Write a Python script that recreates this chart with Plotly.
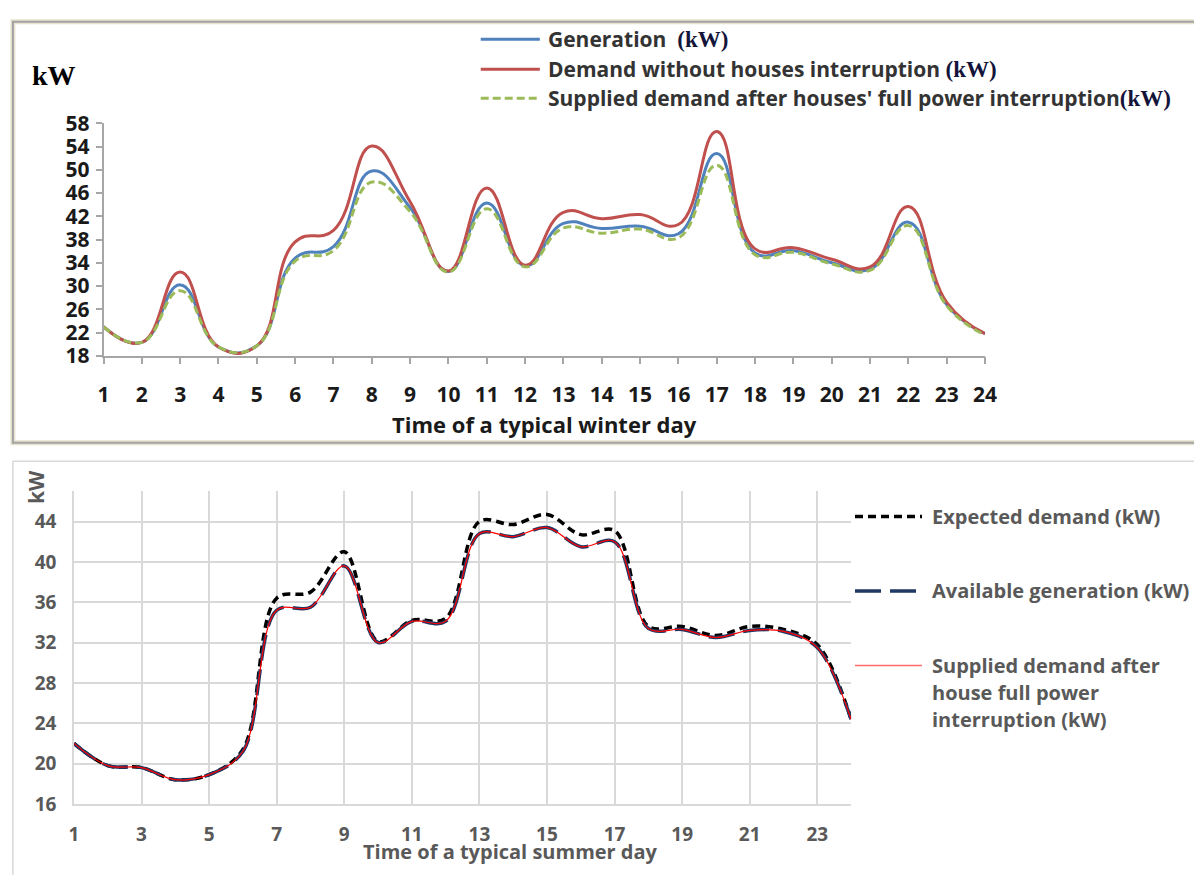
import plotly.graph_objects as go

W, H = 1194, 875

# ---------------- data ----------------
hours = list(range(1, 25))

# winter day (top chart)
winter_generation = [23.0, 20.3, 30.2, 19.5, 19.7, 34.8, 36.8, 49.8, 43.5, 32.5, 44.3, 33.5,
                     40.8, 39.9, 40.3, 39.0, 52.8, 35.7, 36.1, 34.0, 32.9, 41.0, 26.8, 21.8]
winter_demand = [23.0, 20.3, 32.4, 19.5, 19.7, 37.6, 39.6, 54.1, 44.5, 32.6, 46.9, 33.6,
                 42.7, 41.6, 42.3, 40.6, 56.6, 36.4, 36.6, 34.6, 33.3, 43.7, 27.2, 21.8]
winter_supplied = [23.0, 20.3, 29.2, 19.5, 19.7, 34.3, 36.1, 47.9, 42.8, 32.4, 43.3, 33.3,
                   40.0, 39.1, 39.8, 38.3, 50.8, 35.4, 35.8, 33.8, 32.7, 40.4, 26.6, 21.6]
winter_yticks = [18, 22, 26, 30, 34, 38, 42, 46, 50, 54, 58]

# summer day (bottom chart)
summer_expected = [22.0, 19.8, 19.6, 18.4, 18.9, 21.4, 36.4, 37.0, 41.0, 32.1, 34.2, 34.4,
                   44.0, 43.7, 44.7, 42.7, 43.1, 33.6, 33.6, 32.7, 33.6, 33.3, 31.8, 24.4]
summer_available = [22.0, 19.8, 19.6, 18.4, 18.9, 21.2, 35.2, 35.5, 39.6, 32.0, 34.1, 34.1,
                    42.8, 42.5, 43.4, 41.5, 42.0, 33.4, 33.3, 32.5, 33.2, 33.1, 31.5, 24.4]
summer_supplied = [22.0, 19.8, 19.6, 18.4, 18.9, 21.2, 35.2, 35.5, 39.6, 32.0, 34.1, 34.1,
                   42.8, 42.5, 43.4, 41.5, 42.0, 33.4, 33.3, 32.5, 33.2, 33.1, 31.5, 24.4]
summer_xticks = [1, 3, 5, 7, 9, 11, 13, 15, 17, 19, 21, 23]
summer_yticks = [16, 20, 24, 28, 32, 36, 40, 44]

# ---------------- helpers ----------------
def px(x):
    return x / W

def py(y):
    return 1 - y / H

SANS = "Open Sans"
SERIF = "Liberation Serif"

BLUE = "#4F81BD"
RED = "#C0504D"
GREEN = "#9BBB59"
NAVY = "#1F3864"
GRAY_TXT = "#595959"

fig = go.Figure()

# top chart traces
fig.add_trace(go.Scatter(x=hours, y=winter_generation, mode="lines", name="Generation (kW)",
                         line=dict(color=BLUE, width=3, shape="spline", smoothing=1.3),
                         xaxis="x", yaxis="y", showlegend=False))
fig.add_trace(go.Scatter(x=hours, y=winter_demand, mode="lines",
                         name="Demand without houses interruption (kW)",
                         line=dict(color=RED, width=3, shape="spline", smoothing=1.3),
                         xaxis="x", yaxis="y", showlegend=False))
fig.add_trace(go.Scatter(x=hours, y=winter_supplied, mode="lines",
                         name="Supplied demand after houses' full power interruption(kW)",
                         line=dict(color=GREEN, width=3, dash="8px,4px", shape="spline", smoothing=1.3),
                         xaxis="x", yaxis="y", showlegend=False))

# bottom chart traces
fig.add_trace(go.Scatter(x=hours, y=summer_expected, mode="lines", name="Expected demand (kW)",
                         line=dict(color="black", width=3.5, dash="8px,5px", shape="spline", smoothing=1.0),
                         xaxis="x2", yaxis="y2", showlegend=False))
fig.add_trace(go.Scatter(x=hours, y=summer_available, mode="lines", name="Available generation (kW)",
                         line=dict(color=NAVY, width=3.5, dash="26px,9px", shape="spline", smoothing=1.0),
                         xaxis="x2", yaxis="y2", showlegend=False))
fig.add_trace(go.Scatter(x=hours, y=summer_supplied, mode="lines",
                         name="Supplied demand after house full power interruption (kW)",
                         line=dict(color="#FF0000", width=1.2, shape="spline", smoothing=1.0),
                         xaxis="x2", yaxis="y2", showlegend=False))

# ---------------- axes ----------------
top_tick_font = dict(family=SANS, size=21, color="#1a1a1a", weight="bold")
bot_tick_font = dict(family=SANS, size=19, color=GRAY_TXT, weight="bold")

fig.update_layout(
    width=W, height=H, autosize=False,
    margin=dict(l=0, r=0, t=0, b=0),
    paper_bgcolor="white", plot_bgcolor="rgba(0,0,0,0)",
    xaxis=dict(domain=[px(99), px(994)], range=[1, 24], tickvals=hours,
               showgrid=False, zeroline=False, showline=True, linecolor="#a6a6a6", linewidth=1.5,
               ticks="outside", ticklen=7, tickcolor="#a6a6a6", tickwidth=1.5,
               tickfont=top_tick_font, ticklabelstandoff=12, anchor="y"),
    yaxis=dict(domain=[py(352), py(112)], range=[18, 58], tickvals=winter_yticks,
               showgrid=False, zeroline=False, showline=True, linecolor="#a6a6a6", linewidth=1.5,
               ticks="outside", ticklen=6, tickcolor="#a6a6a6", tickwidth=1.5,
               tickfont=top_tick_font, ticklabelstandoff=2, anchor="x"),
    xaxis2=dict(domain=[px(69), px(858)], range=[1, 24], tickvals=summer_xticks,
                showgrid=True, gridcolor="#d9d9d9", gridwidth=1.5, zeroline=False,
                showline=True, linecolor="#d9d9d9", linewidth=1.5, ticks="",
                tickfont=bot_tick_font, ticklabelstandoff=13, anchor="y2"),
    yaxis2=dict(domain=[py(815), py(492)], range=[16, 47], tickvals=summer_yticks,
                showgrid=True, gridcolor="#d9d9d9", gridwidth=1.5, zeroline=False,
                showline=True, linecolor="#d9d9d9", linewidth=1.5, ticks="",
                tickfont=bot_tick_font, ticklabelstandoff=12, anchor="x2"),
)

# ---------------- frames ----------------
shapes = [
    # top chart frame
    dict(type="rect", xref="paper", yref="paper", x0=px(7), x1=px(1210), y0=py(442), y1=py(7),
         line=dict(color="#e6e2cf", width=5), fillcolor="rgba(0,0,0,0)", layer="below"),
    dict(type="rect", xref="paper", yref="paper", x0=px(7), x1=px(1210), y0=py(442), y1=py(7),
         line=dict(color="#a3a3a3", width=2), fillcolor="rgba(0,0,0,0)", layer="below"),
    # bottom chart frame
    dict(type="rect", xref="paper", yref="paper", x0=px(7), x1=px(1210), y0=py(890), y1=py(461),
         line=dict(color="#d9d9d9", width=1.5), fillcolor="rgba(0,0,0,0)", layer="below"),
]

# legend samples, top
for yy, col, dash in [(25, BLUE, "solid"), (56, RED, "solid"), (86, GREEN, "8px,4px")]:
    shapes.append(dict(type="line", xref="paper", yref="paper", x0=px(482), x1=px(542),
                       y0=py(yy), y1=py(yy), line=dict(color=col, width=3, dash=dash)))
# legend samples, bottom
for yy, col, wd, dash in [(518, "black", 3.5, "8px,5px"), (595, NAVY, 3.5, "26px,9px"),
                          (672, "#FF6B6B", 1.6, "solid")]:
    shapes.append(dict(type="line", xref="paper", yref="paper", x0=px(862), x1=px(930),
                       y0=py(yy), y1=py(yy), line=dict(color=col, width=wd, dash=dash)))
fig.update_layout(shapes=shapes)

# ---------------- texts ----------------
kw_serif = '<span style="font-family:Liberation Serif;font-size:23px;fill:#14143a">(kW)</span>'
ann = []

def text(x, y, s, size, color, family=SANS, xanchor="left", bold=True, angle=0):
    ann.append(dict(x=px(x), y=py(y), xref="paper", yref="paper", text=s, showarrow=False,
                    xanchor=xanchor, yanchor="middle", textangle=angle,
                    font=dict(family=family, size=size, color=color,
                              weight="bold" if bold else "normal")))

# top
text(24, 63, "kW", 28, "#000000", family=SERIF)
text(548, 25, "Generation  " + kw_serif, 21, "#333333")
text(548, 56, "Demand without houses interruption " + kw_serif, 21, "#333333")
text(548, 86, "Supplied demand after houses' full power interruption" + kw_serif, 21, "#333333")
text(547, 423, "Time of a typical winter day", 22, "#1a1a1a", xanchor="center")

# bottom
text(31, 488, "kW", 21, GRAY_TXT, xanchor="center", angle=-90)
text(512, 864, "Time of a typical summer day", 20, GRAY_TXT, xanchor="center")
text(938, 518, "Expected demand (kW)", 20, GRAY_TXT)
text(938, 595, "Available generation (kW)", 20, GRAY_TXT)
text(938, 672, "Supplied demand after", 20, GRAY_TXT)
text(938, 700, "house full power", 20, GRAY_TXT)
text(938, 728, "interruption (kW)", 20, GRAY_TXT)

fig.update_layout(annotations=ann)

fig.write_html("out.html")
